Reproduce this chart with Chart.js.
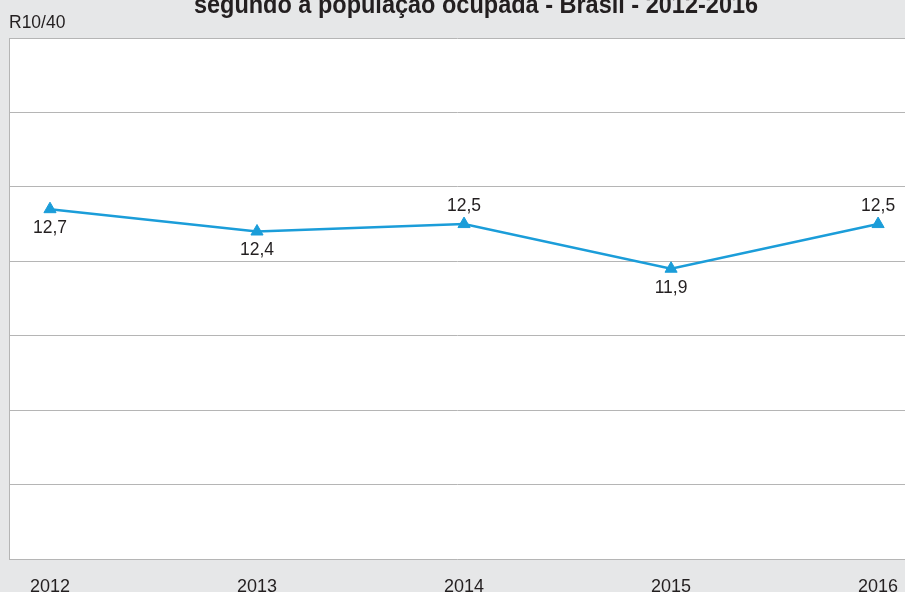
<!DOCTYPE html>
<html><head><meta charset="utf-8">
<script src="https://cdn.jsdelivr.net/npm/chart.js@4/dist/chart.umd.min.js"></script>
<style>
html,body{margin:0;padding:0;background:#e6e7e8;overflow:hidden}
#wrap{position:relative;width:905px;height:592px;overflow:hidden}
#title{position:absolute;left:0;width:952px;top:-8px;line-height:25px;text-align:center;font-weight:bold;font-size:25px;font-family:"Liberation Sans",Arial,sans-serif;color:#231f20;white-space:nowrap;transform:scaleX(0.94);transform-origin:476px 0}
#unit{position:absolute;left:9px;top:12px;font:17.5px "Liberation Sans",Arial,sans-serif;color:#231f20}
canvas{position:absolute;left:0;top:0}
</style></head>
<body>
<div id="wrap">
<canvas id="c" width="905" height="592"></canvas>
<div id="title">segundo a população ocupada - Brasil - 2012-2016</div>
<div id="unit">R10/40</div>
</div>
<script>
const years = [2012, 2013, 2014, 2015, 2016];
const ratioR10R40 = [12.7, 12.4, 12.5, 11.9, 12.5];
const labelSide = ['below', 'below', 'above', 'below', 'above'];
const yTicks = [8, 9, 10, 11, 12, 13, 14, 15];

const plotBg = {
  id: 'plotBg',
  beforeDraw(chart) {
    const {ctx, chartArea: a} = chart;
    ctx.save();
    ctx.fillStyle = '#ffffff';
    ctx.fillRect(a.left, a.top, a.right - a.left, a.bottom - a.top);
    ctx.restore();
  }
};
const valueLabels = {
  id: 'valueLabels',
  afterDatasetsDraw(chart) {
    const ctx = chart.ctx;
    const meta = chart.getDatasetMeta(0);
    ctx.save();
    ctx.font = '17.5px "Liberation Sans", Arial, sans-serif';
    ctx.fillStyle = '#231f20';
    ctx.textAlign = 'center';
    ctx.textBaseline = 'middle';
    meta.data.forEach((pt, i) => {
      const txt = ratioR10R40[i].toFixed(1).replace('.', ',');
      const dy = labelSide[i] === 'above' ? -18 : 19;
      ctx.fillText(txt, pt.x, pt.y + dy);
    });
    ctx.restore();
  }
};

new Chart(document.getElementById('c'), {
  type: 'line',
  data: {
    datasets: [{
      data: years.map((y, i) => ({x: y, y: ratioR10R40[i]})),
      borderColor: '#1b9dd9',
      backgroundColor: '#1b9dd9',
      borderWidth: 2.5,
      pointStyle: 'triangle',
      pointRadius: 7,
      pointBorderWidth: 1,
      pointBorderColor: '#1b9dd9',
      tension: 0,
      clip: false
    }]
  },
  options: {
    responsive: false,
    animation: false,
    devicePixelRatio: 1,
    layout: {autoPadding: false, padding: {left: 9, top: 38, right: 0, bottom: 0}},
    plugins: {legend: {display: false}, tooltip: {enabled: false}, title: {display: false}},
    scales: {
      x: {
        type: 'linear',
        min: 2011.802,
        max: 2016.13,
        afterBuildTicks: s => { s.ticks = years.map(v => ({value: v})); },
        afterFit: s => { s.paddingLeft = 0; s.paddingRight = 0; s.height = 33; },
        grid: {display: false, drawTicks: false},
        border: {display: false},
        ticks: {
          padding: 19,
          color: '#231f20',
          maxRotation: 0,
          autoSkip: false,
          font: {family: '"Liberation Sans", Arial, sans-serif', size: 18, lineHeight: 1},
          callback: v => String(v)
        }
      },
      y: {
        min: 8,
        max: 15,
        afterBuildTicks: s => { s.ticks = yTicks.map(v => ({value: v})); },
        grid: {color: '#b5b5b5', lineWidth: 1, drawTicks: false},
        border: {display: true, color: '#b5b5b5', width: 1},
        ticks: {display: false}
      }
    }
  },
  plugins: [plotBg, valueLabels]
});
</script>
</body></html>
